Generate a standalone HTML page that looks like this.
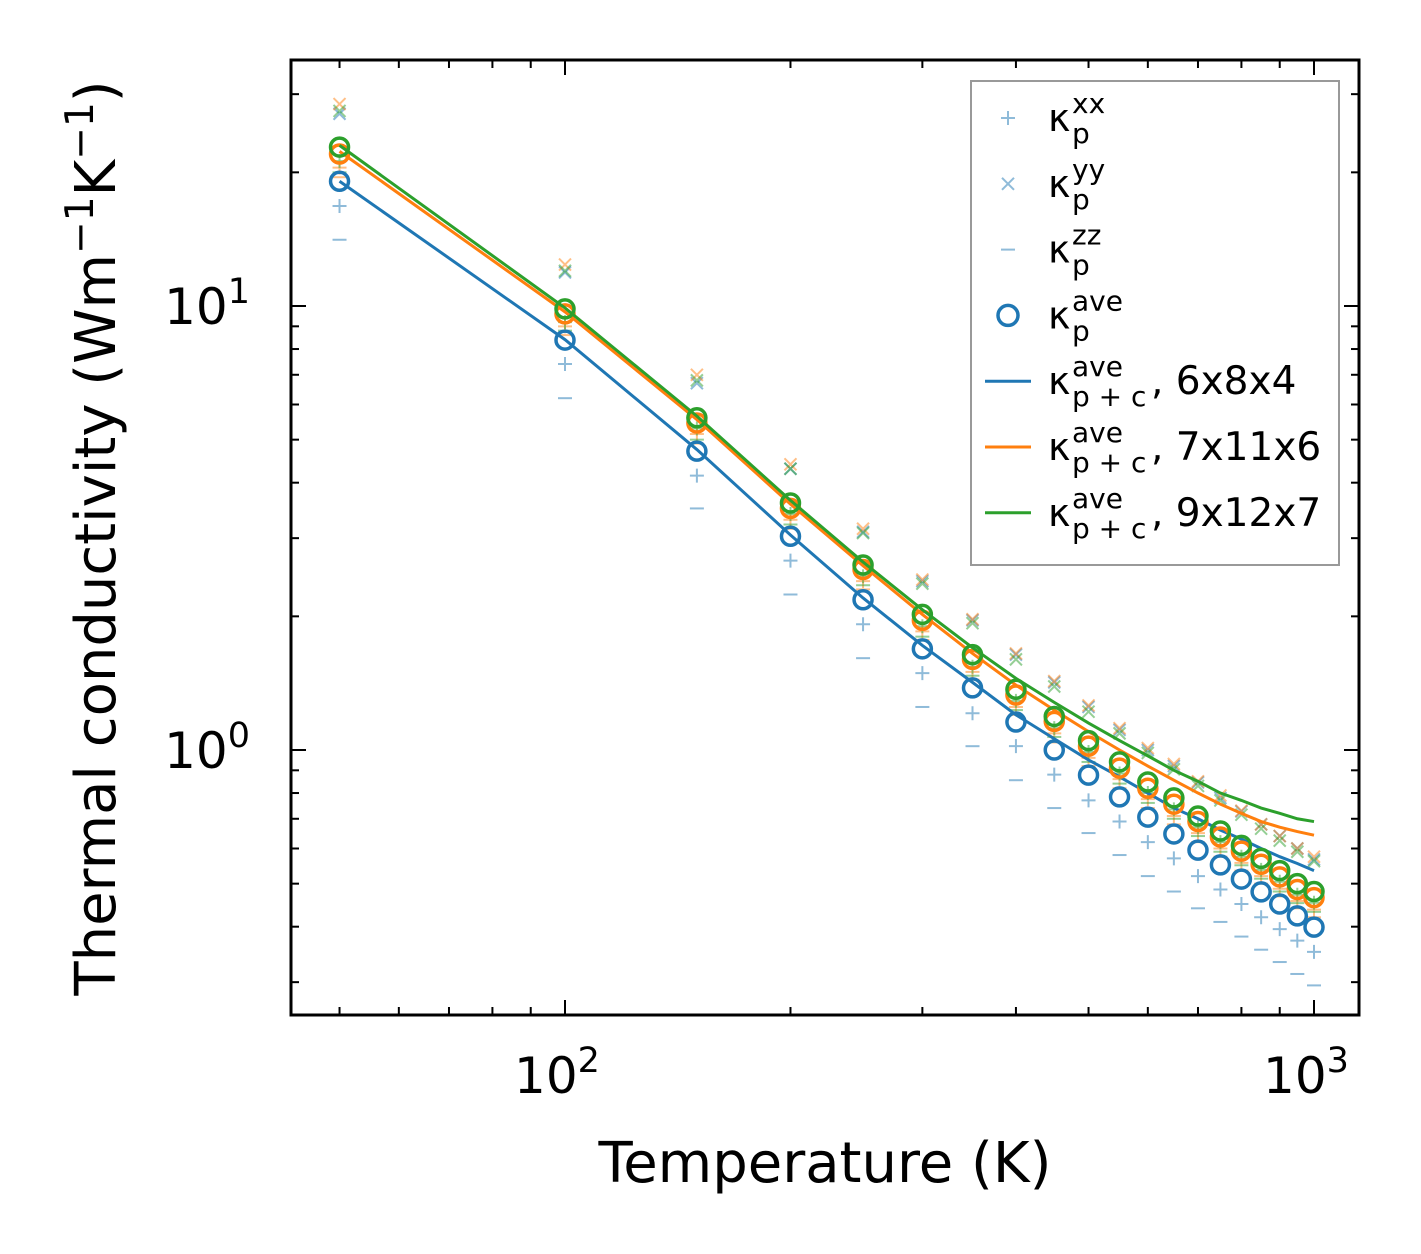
<!DOCTYPE html>
<html><head><meta charset="utf-8"><style>
html,body{margin:0;padding:0;background:#fff;}
svg{display:block;font-family:"DejaVu Sans","Liberation Sans",sans-serif;}
</style></head><body>
<svg id="chart" width="1421" height="1254" viewBox="0 0 1421 1254" xmlns="http://www.w3.org/2000/svg">
<rect width="1421" height="1254" fill="#fff"/>
<g id="marks"></g>
<g id="ticks"></g>
<rect x="291" y="60" width="1068" height="955" fill="none" stroke="#000" stroke-width="3"/>
<text x="825" y="1182" font-size="56" text-anchor="middle">Temperature (K)</text>
<text transform="translate(115,538) rotate(-90)" font-size="56" text-anchor="middle">Thermal conductivity (Wm<tspan dy="-22" font-size="39">−1</tspan><tspan dy="22">K</tspan><tspan dy="-22" font-size="39">−1</tspan><tspan dy="22">)</tspan></text>
<g id="legend">
<rect x="971" y="81" width="368" height="484" fill="#fff" fill-opacity="0.85" stroke="#999" stroke-width="2"/>
</g>
</svg>
<script>
const temps=[50,100,150,200,250,300,350,400,450,500,550,600,650,700,750,800,850,900,950,1000];
const blueAve=[19.1,8.38,4.71,3.03,2.18,1.69,1.38,1.156,1.0,0.878,0.784,0.706,0.647,0.595,0.551,0.512,0.479,0.45,0.423,0.399];
const blueXX=[16.8,7.4,4.15,2.67,1.92,1.49,1.21,1.02,0.88,0.77,0.69,0.62,0.57,0.52,0.485,0.45,0.42,0.395,0.372,0.351];
const blueYY=[27.1,11.9,6.7,4.3,3.1,2.4,1.96,1.64,1.42,1.25,1.11,1.0,0.92,0.845,0.78,0.727,0.68,0.64,0.6,0.567];
const blueZZ=[14.1,6.2,3.5,2.24,1.61,1.25,1.02,0.855,0.74,0.65,0.58,0.52,0.48,0.44,0.41,0.38,0.355,0.333,0.313,0.295];
const orangeAve=[22.0,9.6,5.45,3.5,2.55,1.96,1.6,1.33,1.16,1.02,0.91,0.82,0.755,0.69,0.637,0.592,0.553,0.518,0.485,0.465];
const orangeXX=[20.5,9.0,5.15,3.3,2.4,1.85,1.5,1.25,1.09,0.96,0.86,0.775,0.71,0.65,0.6,0.557,0.52,0.487,0.457,0.437];
const orangeYY=[28.5,12.4,7.0,4.4,3.15,2.42,1.97,1.65,1.43,1.26,1.12,1.01,0.93,0.85,0.79,0.73,0.68,0.64,0.6,0.575];
const orangeZZ=[19.5,8.6,4.9,3.15,2.3,1.77,1.44,1.2,1.04,0.92,0.82,0.74,0.68,0.62,0.575,0.535,0.5,0.468,0.44,0.42];
const greenAve=[22.8,9.85,5.6,3.6,2.61,2.02,1.64,1.37,1.19,1.05,0.94,0.847,0.78,0.71,0.657,0.61,0.57,0.535,0.5,0.48];
const greenXX=[21.2,9.2,5.3,3.4,2.46,1.9,1.54,1.29,1.12,0.99,0.885,0.8,0.735,0.67,0.62,0.575,0.537,0.505,0.472,0.453];
const greenYY=[27.5,12.0,6.8,4.3,3.08,2.37,1.93,1.6,1.39,1.22,1.09,0.985,0.905,0.83,0.77,0.715,0.665,0.625,0.59,0.562];
const greenZZ=[20.0,8.8,5.0,3.22,2.35,1.8,1.47,1.23,1.07,0.94,0.84,0.76,0.7,0.64,0.59,0.55,0.513,0.48,0.452,0.432];
const lineBlue=[19.1,8.4,4.75,3.05,2.2,1.72,1.42,1.2,1.06,0.95,0.87,0.8,0.74,0.7,0.66,0.63,0.6,0.575,0.555,0.535];
const lineOrange=[22.3,9.7,5.55,3.58,2.6,2.02,1.65,1.4,1.23,1.1,1.0,0.92,0.855,0.8,0.755,0.72,0.69,0.67,0.655,0.643];
const lineGreen=[23.0,9.9,5.65,3.65,2.65,2.07,1.7,1.45,1.28,1.15,1.05,0.97,0.9,0.85,0.8,0.77,0.74,0.72,0.7,0.69];
const xMajor=[100,1000];const xMajorLabels=["2","3"];
const xMinor=[50,60,70,80,90,200,300,400,500,600,700,800,900];
const yMajor=[1,10];const yMajorLabels=["0","1"];
const yMinor=[0.3,0.4,0.5,0.6,0.7,0.8,0.9,2,3,4,5,6,7,8,9,20,30];

const NS="http://www.w3.org/2000/svg";
const X=v=>565+749*Math.log10(v/100);
const Y=v=>750-444*Math.log10(v);
const C={blue:"#1f77b4",orange:"#ff7f0e",green:"#2ca02c"};
function mk(tag,attrs,parent){const e=document.createElementNS(NS,tag);for(const k in attrs)e.setAttribute(k,attrs[k]);parent.appendChild(e);return e;}
const marks=document.getElementById('marks'),ticks=document.getElementById('ticks'),legend=document.getElementById('legend');
function plus(g,x,y,c){mk('path',{d:`M${x-7} ${y}H${x+7}M${x} ${y-7}V${y+7}`,stroke:c,'stroke-width':2,'stroke-opacity':0.5,fill:'none'},g);}
function cross(g,x,y,c){mk('path',{d:`M${x-6} ${y-6}L${x+6} ${y+6}M${x-6} ${y+6}L${x+6} ${y-6}`,stroke:c,'stroke-width':2,'stroke-opacity':0.5,fill:'none'},g);}
function dash(g,x,y,c){mk('path',{d:`M${x-7} ${y}H${x+7}`,stroke:c,'stroke-width':2,'stroke-opacity':0.5},g);}
const sets=[["blue",blueXX,blueYY,blueZZ,blueAve,lineBlue],["orange",orangeXX,orangeYY,orangeZZ,orangeAve,lineOrange],["green",greenXX,greenYY,greenZZ,greenAve,lineGreen]];
for(const [name,xx,yy,zz] of sets){
  const g=mk('g',{},marks);
  
  
  temps.forEach((t,i)=>{plus(g,X(t),Y(xx[i]),C[name]);cross(g,X(t),Y(yy[i]),C[name]);dash(g,X(t),Y(zz[i]),C[name]);});
}
for(const [name,,,,ave,line] of sets){
  const p=mk('polyline',{points:temps.map((t,i)=>X(t)+','+Y(line[i])).join(' '),fill:'none',stroke:C[name],'stroke-width':3},marks);
  
  
  const g=mk('g',{},marks);
  
  
  temps.forEach((t,i)=>{mk('circle',{cx:X(t),cy:Y(ave[i]),r:9,fill:'none',stroke:C[name],'stroke-width':3.5},g);});
}
function xt(v,len){const x=X(v);mk('line',{x1:x,x2:x,y1:1015,y2:1015-len,stroke:'#000','stroke-width':2},ticks);mk('line',{x1:x,x2:x,y1:60,y2:60+len,stroke:'#000','stroke-width':2},ticks);}
function yt(v,len){const y=Y(v);mk('line',{x1:291,x2:291+len,y1:y,y2:y,stroke:'#000','stroke-width':2},ticks);mk('line',{x1:1359,x2:1359-len,y1:y,y2:y,stroke:'#000','stroke-width':2},ticks);}
xMinor.forEach(v=>xt(v,8));yMinor.forEach(v=>yt(v,8));
xMajor.forEach((v,i)=>{xt(v,15);const t=mk('text',{x:X(v)-8,y:1093,'font-size':50,'text-anchor':'middle'},ticks);t.textContent='10';const s=mk('tspan',{dy:-21,'font-size':35},t);s.textContent=xMajorLabels[i];
  
  });
yMajor.forEach((v,i)=>{yt(v,15);const t=mk('text',{x:250,y:Y(v)+18,'font-size':50,'text-anchor':'end'},ticks);t.textContent='10';const s=mk('tspan',{dy:-21,'font-size':35},t);s.textContent=yMajorLabels[i];
  
  });
const entries=[["plus","xx",""],["cross","yy",""],["dash","zz",""],["circle","ave",""],["line-blue","ave",", 6x8x4"],["line-orange","ave",", 7x11x6"],["line-green","ave",", 9x12x7"]];
entries.forEach((e,i)=>{
  const y=118+i*65.8;const g=mk('g',{},legend);
  
  
  const mx=1008;
  if(e[0]=="plus")plus(g,mx,y,C.blue);else if(e[0]=="cross")cross(g,mx,y,C.blue);else if(e[0]=="dash")dash(g,mx,y,C.blue);
  else if(e[0]=="circle")mk('circle',{cx:mx,cy:y,r:10,fill:'none',stroke:C.blue,'stroke-width':3.5},g);
  else mk('line',{x1:985,x2:1031,y1:y,y2:y,stroke:C[e[0].split('-')[1]],'stroke-width':3},g);
  const t=mk('text',{x:1048,y:y+13,'font-size':38},g);t.textContent='κ';
  const sup=mk('tspan',{x:1072,dy:-18,'font-size':28},t);sup.textContent=e[1];
  const sub=mk('tspan',{x:1072,dy:30,'font-size':28},t);sub.textContent=e[2]?'p + c':'p';
  if(e[2]){const r=mk('tspan',{x:1151,dy:-12,'font-size':39},t);r.textContent=e[2].replace(', ',',\u00a0');}
});
</script>
</body></html>
